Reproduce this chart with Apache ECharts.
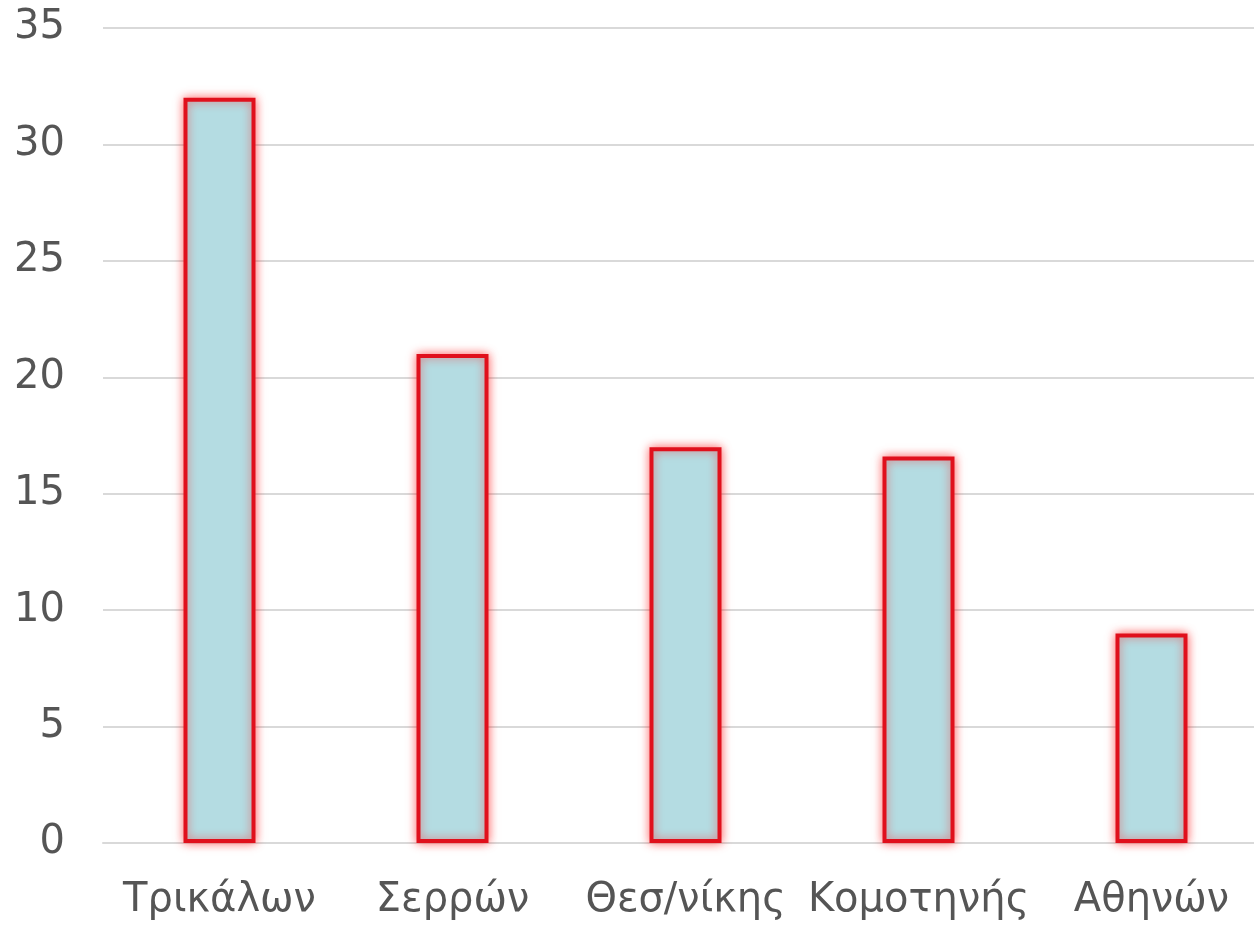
<!DOCTYPE html>
<html><head><meta charset="utf-8">
<script src="https://cdn.jsdelivr.net/npm/echarts@6/dist/echarts.min.js"></script>
<style>html,body{margin:0;padding:0;background:#fff;overflow:hidden}#c{width:1270px;height:931px}</style>
</head><body><div id="c"></div>
<script>
const categories = ['Τρικάλων', 'Σερρών', 'Θεσ/νίκης', 'Κομοτηνής', 'Αθηνών'];
const values = [32, 21, 17, 16.6, 9];
const yTicks = {min: 0, max: 35, interval: 5};

const chart = echarts.init(document.getElementById('c'));
chart.setOption({
  animation: false,
  backgroundColor: '#fff',
  grid: {left: 103, right: 2, top: 28, bottom: 88, containLabel: false},
  xAxis: {
    type: 'category', data: categories,
    axisLine: {lineStyle: {color: '#d9d9d9', width: 2}},
    axisTick: {show: false},
    axisLabel: {color: '#555555', fontFamily: 'DejaVu Sans', fontSize: 40, margin: 38, interval: 0}
  },
  yAxis: {
    type: 'value', min: yTicks.min, max: yTicks.max, interval: yTicks.interval,
    axisLine: {show: false}, axisTick: {show: false},
    axisLabel: {color: '#555555', fontFamily: 'DejaVu Sans', fontSize: 40, margin: 38},
    splitLine: {lineStyle: {color: '#d9d9d9', width: 2}}
  },
  series: [{
    type: 'bar', data: values, barWidth: 72,
    itemStyle: {color: '#b4dce2', borderColor: '#e0101c', borderWidth: 4,
      shadowColor: 'rgba(255,30,30,0.6)', shadowBlur: 10}
  }]
});
</script></body></html>
